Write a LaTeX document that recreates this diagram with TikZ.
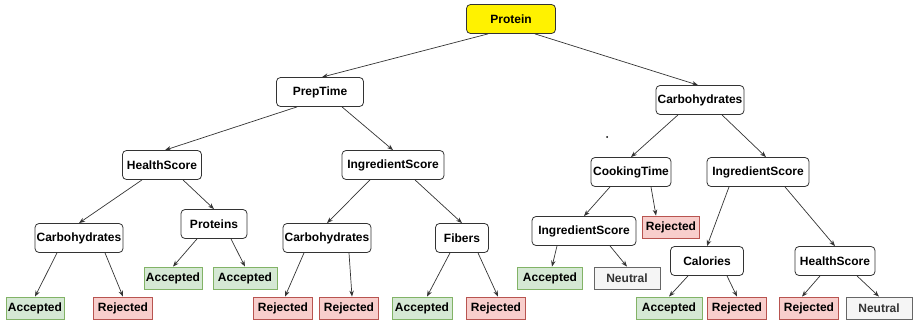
\documentclass[tikz,border=0pt]{standalone}
\usepackage{fontspec}
\setmainfont{Liberation Sans}
\usetikzlibrary{arrows.meta}
\definecolor{gfill}{HTML}{D5E8D4}\definecolor{gdraw}{HTML}{82B366}
\definecolor{rfill}{HTML}{F8CECC}\definecolor{rdraw}{HTML}{B85450}
\definecolor{nfill}{HTML}{F5F5F5}\definecolor{ndraw}{HTML}{666666}
\definecolor{ntext}{HTML}{333333}\definecolor{edge}{HTML}{333333}
\begin{document}
\begin{tikzpicture}[x=1pt,y=-1pt,
  base/.style={font=\fontsize{12}{14}\selectfont\bfseries, inner sep=0pt, align=center},
  dec/.style={base, draw=black!80, fill=white, rounded corners=4pt, line width=0.8pt, minimum height=29pt},
  root/.style={dec, fill=yellow},
  acc/.style={base, draw=gdraw, fill=gfill, line width=0.8pt, minimum height=22pt, minimum width=60pt},
  rej/.style={base, draw=rdraw, fill=rfill, line width=0.8pt, minimum height=22pt, minimum width=59pt},
  neu/.style={base, draw=ndraw, fill=nfill, text=ntext, line width=0.8pt, minimum height=22pt, minimum width=66pt},
  arr/.style={draw=edge, line width=0.7pt, -{Stealth[length=6pt,width=4.5pt]}}]
\useasboundingbox (0,0) rectangle (913,324);
% decision nodes
\node[root, minimum width=89pt] (prot) at (511,19) {Protein};
\node[dec, minimum width=87pt] (prep) at (320,92) {PrepTime};
\node[dec, minimum width=88pt] (carbR) at (700,100) {Carbohydrates};
\node[dec, minimum width=79pt] (hsL) at (162,165) {HealthScore};
\node[dec, minimum width=102pt] (ingL) at (393,165) {IngredientScore};
\node[dec, minimum width=80pt] (cook) at (631,172) {CookingTime};
\node[dec, minimum width=102pt] (ingR) at (758,172) {IngredientScore};
\node[dec, minimum width=88pt] (carbL) at (79,238) {Carbohydrates};
\node[dec, minimum width=66pt] (prots) at (214,224) {Proteins};
\node[dec, minimum width=88pt] (carbM) at (327,238) {Carbohydrates};
\node[dec, minimum width=53pt] (fib) at (462,238) {Fibers};
\node[dec, minimum width=104pt] (ingR3) at (584,231) {IngredientScore};
\node[dec, minimum width=73pt] (cal) at (707,261) {Calories};
\node[dec, minimum width=80pt] (hsR) at (835,261) {HealthScore};
% leaves
\node[rej, minimum width=57pt] (rejCT) at (671,227) {Rejected};
\node[acc, minimum width=58pt] (accP1) at (173,278) {Accepted};
\node[acc, minimum width=64pt] (accP2) at (245,278) {Accepted};
\node[acc, minimum width=65pt] (accI) at (550,278) {Accepted};
\node[neu] (neuI) at (627,278) {Neutral};
\node[acc, minimum width=58pt] (l1) at (35,308) {Accepted};
\node[rej] (l2) at (123,308) {Rejected};
\node[rej] (l3) at (283,308) {Rejected};
\node[rej] (l4) at (349,308) {Rejected};
\node[acc] (l5) at (422,308) {Accepted};
\node[rej] (l6) at (496,308) {Rejected};
\node[acc, minimum width=66pt] (l7) at (669,308) {Accepted};
\node[rej] (l8) at (737,308) {Rejected};
\node[rej] (l9) at (809,308) {Rejected};
\node[neu] (l10) at (879,308) {Neutral};
% stray dot
\fill (607,137) circle (1pt);
% edges
\draw[arr] ([xshift=-23pt]prot.south) -- ([xshift=2pt]prep.north);
\draw[arr] ([xshift=24pt]prot.south) -- ([xshift=-2pt]carbR.north);
\draw[arr] ([xshift=-23pt]prep.south) -- ([xshift=3pt]hsL.north);
\draw[arr] ([xshift=22pt]prep.south) -- (ingL.north);
\draw[arr] ([xshift=-22pt]carbR.south) -- (cook.north);
\draw[arr] ([xshift=22pt]carbR.south) -- ([xshift=8pt]ingR.north);
\draw[arr] ([xshift=-20pt]hsL.south) -- (carbL.north);
\draw[arr] ([xshift=21pt]hsL.south) -- (prots.north);
\draw[arr] ([xshift=-23pt]ingL.south) -- (carbM.north);
\draw[arr] ([xshift=22pt]ingL.south) -- (fib.north);
\draw[arr] ([xshift=-22pt]carbL.south) -- (l1.north);
\draw[arr] ([xshift=26pt]carbL.south) -- (l2.north);
\draw[arr] ([xshift=-17pt]prots.south) -- (accP1.north);
\draw[arr] ([xshift=17pt]prots.south) -- (accP2.north);
\draw[arr] ([xshift=-23pt]carbM.south) -- ([xshift=2pt]l3.north);
\draw[arr] ([xshift=22pt]carbM.south) -- ([xshift=3pt]l4.north);
\draw[arr] ([xshift=-12pt]fib.south) -- ([xshift=5pt]l5.north);
\draw[arr] ([xshift=16pt]fib.south) -- ([xshift=2pt]l6.north);
\draw[arr] ([xshift=-21pt]cook.south) -- (ingR3.north);
\draw[arr] ([xshift=20pt]cook.south) -- ([xshift=-15pt]rejCT.north);
\draw[arr] ([xshift=-29pt]ingR.south) -- (cal.north);
\draw[arr] ([xshift=27pt]ingR.south) -- (hsR.north);
\draw[arr] ([xshift=-27pt]ingR3.south) -- ([xshift=2pt]accI.north);
\draw[arr] ([xshift=26pt]ingR3.south) -- (neuI.north);
\draw[arr] ([xshift=-19pt]cal.south) -- (l7.north);
\draw[arr] ([xshift=20pt]cal.south) -- (l8.north);
\draw[arr] ([xshift=-15pt]hsR.south) -- ([xshift=-7pt]l9.north);
\draw[arr] ([xshift=22pt]hsR.south) -- (l10.north);
\end{tikzpicture}
\end{document}
